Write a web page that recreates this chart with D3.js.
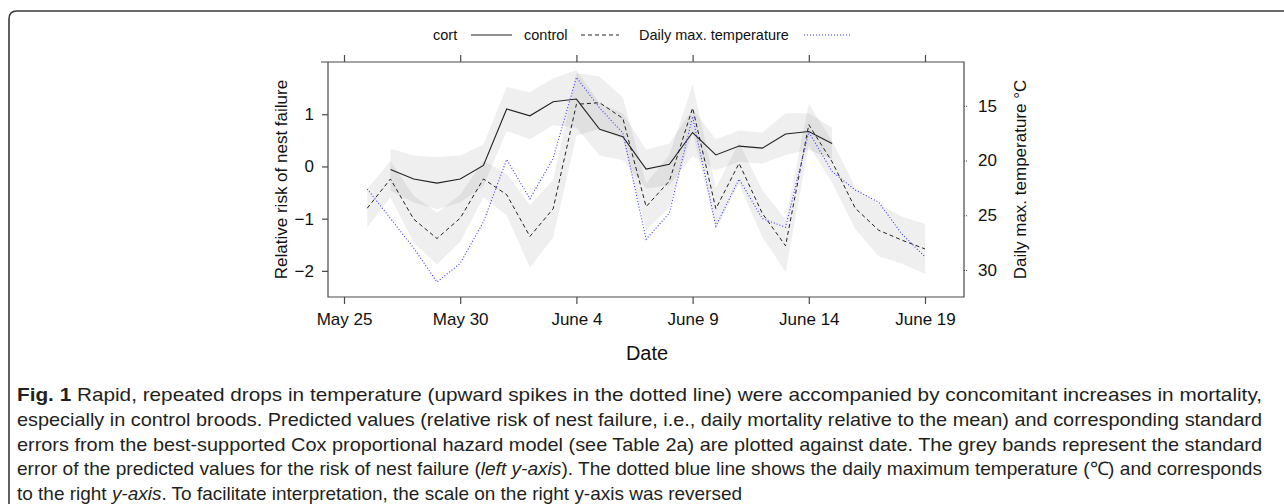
<!DOCTYPE html>
<html><head><meta charset="utf-8">
<script src="https://cdn.jsdelivr.net/npm/d3@7"></script>
<style>body{margin:0;background:#fff}svg{display:block}</style>
</head><body>
<svg id="c" width="1284" height="504"></svg>
<script>
// ---- data ----
const dates = ["2015-05-26","2015-05-27","2015-05-28","2015-05-29","2015-05-30","2015-05-31",
  "2015-06-01","2015-06-02","2015-06-03","2015-06-04","2015-06-05","2015-06-06","2015-06-07",
  "2015-06-08","2015-06-09","2015-06-10","2015-06-11","2015-06-12","2015-06-13","2015-06-14",
  "2015-06-15","2015-06-16","2015-06-17","2015-06-18","2015-06-19"];
const cort = [null,-0.06,-0.24,-0.32,-0.24,0.02,1.10,0.97,1.24,1.29,0.71,0.57,-0.05,0.04,0.65,0.22,0.39,0.35,0.62,0.67,0.44,null,null,null,null];
const cortSE = [null,0.40,0.45,0.50,0.45,0.40,0.42,0.45,0.45,0.55,0.50,0.45,0.37,0.40,0.45,0.30,0.30,0.30,0.40,0.35,0.30,null,null,null,null];
const control = [-0.80,-0.24,-1.01,-1.38,-0.99,-0.24,-0.54,-1.34,-0.81,1.19,1.22,0.92,-0.77,-0.28,1.12,-0.81,0.06,-0.90,-1.52,0.80,0.09,-0.80,-1.22,-1.41,-1.58];
const controlSE = [0.37,0.35,0.45,0.50,0.45,0.35,0.40,0.60,0.55,0.60,0.50,0.40,0.45,0.50,0.45,0.40,0.40,0.45,0.50,0.40,0.40,0.40,0.50,0.45,0.48];
const temperature = [22.6,25.3,28.0,31.1,29.4,25.6,19.9,23.5,19.8,12.4,15.2,17.5,27.2,24.8,16.0,26.0,21.7,25.3,26.1,17.4,21.0,22.7,23.8,26.7,28.8];
const xTickDates = ["2015-05-25","2015-05-30","2015-06-04","2015-06-09","2015-06-14","2015-06-19"];
const leftTicks = [-2,-1,0,1];
const rightTicks = [15,20,25,30];
const legendLabels = ["cort","control","Daily max. temperature"];
const captionLines = [
 [["Fig. 1","b"],[" Rapid, repeated drops in temperature (upward spikes in the dotted line) were accompanied by concomitant increases in mortality,",""]],
 [["especially in control broods. Predicted values (relative risk of nest failure, i.e., daily mortality relative to the mean) and corresponding standard",""]],
 [["errors from the best-supported Cox proportional hazard model (see Table 2a) are plotted against date. The grey bands represent the standard",""]],
 [["error of the predicted values for the risk of nest failure (",""],["left y-axis","i"],["). The dotted blue line shows the daily maximum temperature (\u2103) and corresponds",""]],
 [["to the right ",""],["y-axis","i"],[". To facilitate interpretation, the scale on the right y-axis was reversed",""]]
];
const captionWidths = [1245,1245,1245,1245,725];

// ---- layout ----
const parse = d3.timeParse("%Y-%m-%d");
const svg = d3.select("#c");
const L = 328, R = 964, T = 62, B = 297;
const x = d3.scaleTime().domain([parse("2015-05-25"), parse("2015-06-19")]).range([344, 925]);
const yL = d3.scaleLinear().domain([-2.5, 2.0]).range([B, T]);
const yR = d3.scaleLinear().domain([11.0, 32.47]).range([T, B]);
const font = "'Liberation Sans', Arial, Helvetica, sans-serif";

const rows = dates.map((d,i)=>({date:parse(d), cort:cort[i], cse:cortSE[i], ctl:control[i], kse:controlSE[i], t:temperature[i]}));

// outer frame
svg.append("path").attr("d","M9,504 V19 Q9,11 17,11 H1290")
  .attr("fill","none").attr("stroke","#3a3a3a").attr("stroke-width",1.6);

const g = svg.append("g");
g.append("defs").append("clipPath").attr("id","pc").append("rect")
  .attr("x",L).attr("y",T).attr("width",R-L).attr("height",B-T);
const pg = g.append("g").attr("clip-path","url(#pc)");

// bands
const bandArea = (v,se) => d3.area().defined(r=>r[v]!=null)
  .x(r=>x(r.date)).y0(r=>yL(r[v]-r[se])).y1(r=>yL(r[v]+r[se]));
pg.append("path").datum(rows).attr("d", bandArea("ctl","kse")).attr("fill","#000").attr("fill-opacity",0.062);
pg.append("path").datum(rows).attr("d", bandArea("cort","cse")).attr("fill","#000").attr("fill-opacity",0.062);

// lines
const lineL = v => d3.line().defined(r=>r[v]!=null).x(r=>x(r.date)).y(r=>yL(r[v]));
pg.append("path").datum(rows).attr("d", lineL("ctl")).attr("fill","none").attr("stroke","#222").attr("stroke-width",1).attr("stroke-dasharray","4,3");
pg.append("path").datum(rows).attr("d", lineL("cort")).attr("fill","none").attr("stroke","#222").attr("stroke-width",1.1);
pg.append("path").datum(rows).attr("d", d3.line().x(r=>x(r.date)).y(r=>yR(r.t)))
  .attr("fill","none").attr("stroke","#3a3aff").attr("stroke-width",1.1).attr("stroke-dasharray","1,2");

// box
const ax = "#4a4a4a";
g.append("path").attr("d",`M${L-7},${T} H${R} V${B} H${L} V${T}`).attr("fill","none").attr("stroke",ax).attr("stroke-width",1.2);

// axes
const xt = xTickDates.map(parse);
const fmt = d3.timeFormat("%B %-d");
const xb = g.append("g").attr("transform",`translate(0,${B})`)
  .call(d3.axisBottom(x).tickValues(xt).tickFormat(fmt).tickSize(7).tickPadding(5));
const xtop = g.append("g").attr("transform",`translate(0,${T})`)
  .call(d3.axisTop(x).tickValues(xt).tickFormat("").tickSize(7));
const yl = g.append("g").attr("transform",`translate(${L},0)`)
  .call(d3.axisLeft(yL).tickValues(leftTicks).tickFormat(d3.format("d")).tickSize(6).tickPadding(8));
const yr = g.append("g").attr("transform",`translate(${R},0)`)
  .call(d3.axisRight(yR).tickValues(rightTicks).tickSize(4).tickPadding(10));
[xb,xtop,yl,yr].forEach(a=>{
  a.select(".domain").remove();
  a.selectAll("line").attr("stroke",ax).attr("stroke-width",1.2);
  a.selectAll("text").attr("font-family",font).attr("font-size",17).attr("fill","#111");
});
xb.selectAll("text").attr("dy","0.95em");
yr.selectAll("line").attr("stroke-dasharray","1,1").attr("stroke-width",1);

// axis titles
g.append("text").attr("x",(L+R)/2+1).attr("y",353).attr("dy","0.35em").attr("text-anchor","middle")
  .attr("font-family",font).attr("font-size",20).attr("fill","#111").text("Date");
g.append("text").attr("transform",`translate(281,${(T+B)/2}) rotate(-90)`).attr("dy","0.35em").attr("text-anchor","middle")
  .attr("font-family",font).attr("font-size",17).attr("fill","#111").text("Relative risk of nest failure");
g.append("text").attr("transform",`translate(1020,${(T+B)/2}) rotate(-90)`).attr("dy","0.35em").attr("text-anchor","middle")
  .attr("font-family",font).attr("font-size",17).attr("fill","#111").text("Daily max. temperature \u00B0C");

// legend
const lg = g.append("g").attr("font-family",font).attr("font-size",14.5).attr("fill","#111");
const legItems = [
  {label:legendLabels[0], tx:433, lx:[471,512], dash:null, col:"#222"},
  {label:legendLabels[1], tx:524, lx:[581,619], dash:"4,3", col:"#222"},
  {label:legendLabels[2], tx:639, lx:[804,850], dash:"1,2", col:"#3a3aff"}
];
legItems.forEach(it=>{
  lg.append("text").attr("x",it.tx).attr("y",35).attr("dy","0.35em").text(it.label);
  lg.append("line").attr("x1",it.lx[0]).attr("x2",it.lx[1]).attr("y1",35).attr("y2",35)
    .attr("stroke",it.col).attr("stroke-width",1.1).attr("stroke-dasharray",it.dash);
});

// caption
const cap = svg.append("g").attr("font-family","'Liberation Sans', Arial, sans-serif")
  .attr("font-size",18.5).attr("fill","#231f20");
captionLines.forEach((parts,i)=>{
  const t = cap.append("text").attr("x",17).attr("y",395+i*24.6).attr("dy","0.35em")
    .attr("textLength",captionWidths[i]).attr("lengthAdjust","spacingAndGlyphs");
  parts.forEach(p=>{
    const s = t.append("tspan").text(p[0]);
    if(p[1]==="b") s.attr("font-weight","bold");
    if(p[1]==="i") s.attr("font-style","italic");
  });
});
</script>
</body></html>
